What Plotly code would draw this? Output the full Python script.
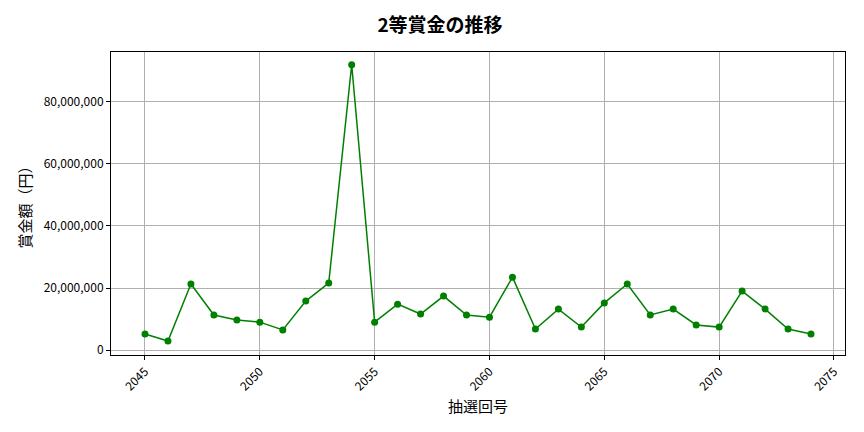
import plotly.graph_objects as go

draws = list(range(2045, 2075))
prize = [5.2, 2.9, 21.3, 11.3, 9.7, 9.0, 6.5, 15.8, 21.6, 92.0,
         9.0, 14.8, 11.6, 17.4, 11.3, 10.6, 23.5, 6.8, 13.2, 7.4,
         15.2, 21.3, 11.3, 13.2, 8.1, 7.4, 19.0, 13.2, 6.8, 5.2]
prize = [v * 1_000_000 for v in prize]

FONT = "Noto Sans CJK JP"

fig = go.Figure(go.Scatter(
    x=draws, y=prize, mode="lines+markers",
    line=dict(color="green", width=1.5),
    marker=dict(color="green", size=7),
))

axis_common = dict(
    showgrid=True, gridcolor="#b0b0b0", gridwidth=0.8,
    showline=True, linecolor="black", mirror=True,
    ticks="outside", ticklen=4, tickcolor="black",
    zeroline=False, tickfont=dict(size=12, color="black", family=FONT),
)

# page body adds ~8px offset, so margins are shifted to compensate
fig.update_layout(
    width=864, height=432,
    margin=dict(l=103, r=27, t=44, b=85),
    plot_bgcolor="white", paper_bgcolor="white",
    font=dict(family=FONT, color="black"),
    title=dict(text="<b>2等賞金の推移</b>", x=0.5, xanchor="center",
               y=0.96, yanchor="middle",
               font=dict(size=19, family=FONT)),
    showlegend=False,
)
fig.update_xaxes(range=[2043.52, 2075.48], tickvals=list(range(2045, 2076, 5)),
                 tickangle=-45,
                 title=dict(text="抽選回号", font=dict(size=15), standoff=8),
                 **axis_common)
fig.update_yaxes(range=[-1.6e6, 96.1e6], tickvals=[0, 2e7, 4e7, 6e7, 8e7],
                 tickformat=",d",
                 title=dict(text="賞金額（円）", font=dict(size=15), standoff=8),
                 **axis_common)

fig.write_html("out.html")
